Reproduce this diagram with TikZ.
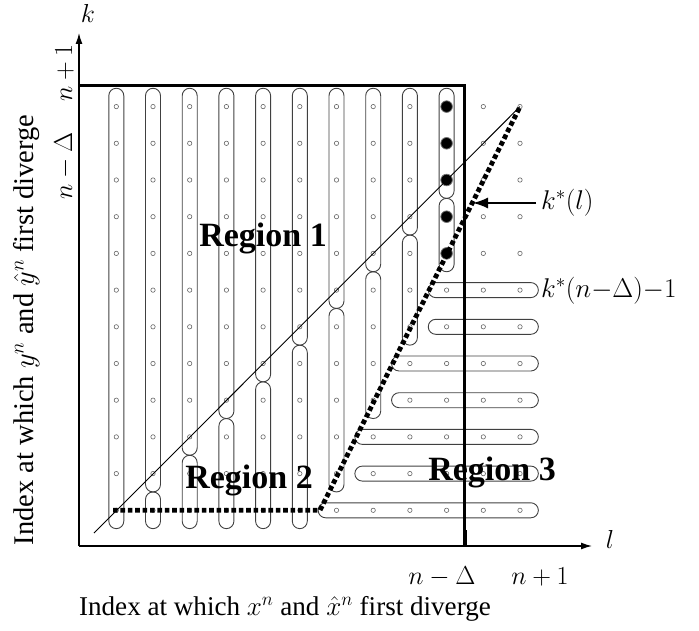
\RequirePackage{fix-cm}
\documentclass[tikz,border=0pt]{standalone}
\usepackage[no-math]{fontspec}
\setmainfont{Liberation Serif}
\usetikzlibrary{arrows.meta}
\newcommand\vcap[3]{% column, bottom row, top row
  \draw[capsule] ({116.3+36.7*(#1-1)-7.5}, {510.3-36.7*(#3-1)-18.35}) rectangle ({116.3+36.7*(#1-1)+7.5}, {510.3-36.7*(#2-1)+18.35});}
\newcommand\hcap[3]{% row, left column, right column
  \draw[capsule] ({116.3+36.7*(#2-1)-18.35}, {510.3-36.7*(#1-1)-7.5}) rectangle ({116.3+36.7*(#3-1)+18.35}, {510.3-36.7*(#1-1)+7.5});}
\begin{document}
\begin{tikzpicture}[x=1pt,y=-1pt,
  capsule/.style={draw=black!75, line width=0.9pt, rounded corners=7.5pt},
  gdot/.style={draw=black!60, line width=0.6pt, fill=white},
  bdot/.style={fill=black, draw=black!55, line width=0.8pt},
  axis/.style={line width=1.3pt, -{Latex[length=11pt,width=7pt]}},
  bound/.style={line width=3pt},
  sqdot/.style={line width=4.8pt, dash pattern=on 4.6pt off 2.8pt},
  thinline/.style={line width=0.9pt},
  pointer/.style={line width=1.6pt, -{Latex[length=15pt,width=11pt]}},
  lab/.style={font=\fontsize{26}{30}\selectfont, inner sep=0pt},
  biglab/.style={font=\fontsize{27.1}{31}\selectfont, inner sep=0pt},
  reg/.style={font=\fontsize{34}{38}\selectfont\bfseries, inner sep=0pt},
]
\useasboundingbox (0,0) rectangle (699,631);
% vertical capsules
\vcap{1}{1}{12}
\vcap{2}{2}{12} \vcap{2}{1}{1}
\vcap{3}{3}{12} \vcap{3}{1}{2}
\vcap{4}{4}{12} \vcap{4}{1}{3}
\vcap{5}{5}{12} \vcap{5}{1}{4}
\vcap{6}{6}{12} \vcap{6}{1}{5}
\vcap{7}{7}{12} \vcap{7}{2}{6}
\vcap{8}{8}{12} \vcap{8}{4}{7}
\vcap{9}{9}{12} \vcap{9}{6}{8}
\vcap{10}{10}{12} \vcap{10}{8}{9}
% horizontal capsules
\hcap{1}{7}{12}
\hcap{2}{8}{12}
\hcap{3}{8}{12}
\hcap{4}{9}{12}
\hcap{5}{9}{12}
\hcap{6}{10}{12}
\hcap{7}{10}{12}
% grid points
\foreach \c in {1,...,12}{
  \foreach \r in {1,...,12}{
    \draw[gdot] ({116.3+36.7*(\c-1)},{510.3-36.7*(\r-1)}) circle[radius=2.2];
  }
}
\foreach \r in {8,...,12}{
  \filldraw[bdot] ({116.3+36.7*9},{510.3-36.7*(\r-1)}) circle[radius=5.8];
}
% thin diagonal
\coordinate (t1) at (94,533);
\coordinate (t2) at (520,106.6);
\draw[thinline] (t1) -- (t2);
% thick square-dotted boundary
\coordinate (d1) at (113,510.3);
\coordinate (d2) at (320,510.3);
\coordinate (d3) at (520,106.6);
\draw[sqdot] (d1) -- (d2) -- (d3);
% axes
\coordinate (O) at (79,546);
\coordinate (xend) at (592,546);
\coordinate (yend) at (79,33);
\draw[axis] (O) -- (xend);
\draw[axis] (O) -- (yend);
% bold boundary
\coordinate (tl) at (79,86);
\coordinate (tr) at (464.5,86);
\coordinate (br) at (464.5,546);
\coordinate (tk) at (464.5,530);
\draw[bound] (tl) -- (tr) -- (br);
\draw[line width=4pt] (tk) -- (br);
% labels
\node[lab] (kax) at (88,13) {$k$};
\node[lab] (lax) at (610,539) {$l$};
\node[lab] (xnd) at (442,577) {$n-\Delta$};
\node[lab] (xn1) at (540,577) {$n+1$};
\node[lab, rotate=90, anchor=base] (yn1) at (72,73) {$n+1$};
\node[lab, rotate=90, anchor=base] (ynd) at (72,166) {$n-\Delta$};
\node[biglab, anchor=base] (xlab) at (285,615) {Index at which $x^n$ and $\hat{x}^n$ first diverge};
\node[biglab, font=\fontsize{28.5}{32}\selectfont, rotate=90, anchor=base] (ylab) at (34,330) {Index at which $y^n$ and $\hat{y}^n$ first diverge};
\node[biglab, anchor=west] (kl) at (541,203) {$k^*(l)$};
\node[biglab, anchor=west] (knd) at (541,291) {$k^*(n{-}\Delta){-}1$};
\coordinate (kp) at (473,203);
\draw[pointer] ([xshift=-5pt]kl.west) -- (kp);
\node[reg, anchor=base] (r1) at (263,247) {Region 1};
\node[reg, anchor=base] (r2) at (249,488) {Region 2};
\node[reg, anchor=base] (r3) at (492,480) {Region 3};
\end{tikzpicture}
\end{document}
